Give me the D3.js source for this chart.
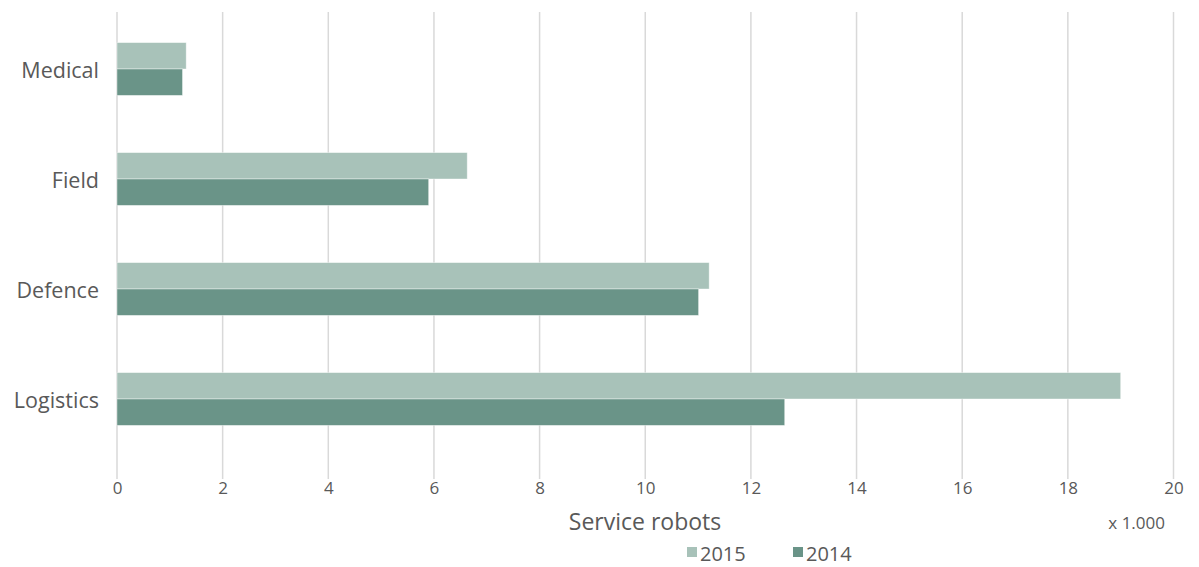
<!DOCTYPE html>
<html>
<head>
<meta charset="utf-8">
<script src="https://cdn.jsdelivr.net/npm/d3@7"></script>
<style>
  html, body { margin: 0; padding: 0; background: #fff; }
  svg { display: block; }
  text { font-family: "Open Sans", "Noto Sans", sans-serif; fill: #595959; }
</style>
</head>
<body>
<svg id="chart" width="1199" height="567"></svg>
<script>
// Service robots by application area, thousands of units
const categories = ["Medical", "Field", "Defence", "Logistics"];
const seriesNames = ["2015", "2014"];
const values2015 = [1.31, 6.63, 11.21, 19.0];
const values2014 = [1.24, 5.90, 11.01, 12.64];
const xTicks = [0, 2, 4, 6, 8, 10, 12, 14, 16, 18, 20];
const colors = ["#a8c2b9", "#6a9488"];

const svg = d3.select("#chart");
const margin = { top: 14, right: 25, bottom: 113, left: 117 };
const W = 1199, H = 567;
const innerW = W - margin.left - margin.right;
const innerH = H - margin.top - margin.bottom;

const g = svg.append("g").attr("transform", `translate(${margin.left},${margin.top})`);

const x = d3.scaleLinear().domain([0, 20]).range([0, innerW - 0.5]);
const y = d3.scaleBand().domain(categories).range([0, innerH]).paddingInner(0.52).paddingOuter(0.26);
const ySub = d3.scaleBand().domain(seriesNames).range([0, y.bandwidth()]);

// vertical gridlines
g.append("g").selectAll("line").data(xTicks).join("line")
  .attr("x1", d => x(d)).attr("x2", d => x(d))
  .attr("y1", -2).attr("y2", innerH + 25)
  .attr("stroke", "#d9d9d9").attr("stroke-width", 1.5);

// bars
const rows = categories.map((c, i) => ({ cat: c, vals: [values2015[i], values2014[i]] }));
const groups = g.append("g").selectAll("g").data(rows).join("g")
  .attr("transform", d => `translate(0,${y(d.cat)})`);
groups.selectAll("rect").data(d => d.vals.map((v, j) => ({ key: seriesNames[j], v, j })))
  .join("rect")
  .attr("x", x(0))
  .attr("y", d => ySub(d.key))
  .attr("width", d => x(d.v) - x(0))
  .attr("height", ySub.bandwidth())
  .attr("fill", d => colors[d.j])
  .attr("stroke", "#ffffff").attr("stroke-opacity", 0.5).attr("stroke-width", 0.8);

// category labels
g.append("g").selectAll("text").data(categories).join("text")
  .attr("x", -18)
  .attr("y", d => y(d) + y.bandwidth() / 2)
  .attr("text-anchor", "end")
  .attr("dominant-baseline", "central")
  .attr("font-size", 21.5)
  .text(d => d);

// x tick labels
const xAxis = d3.axisBottom(x).tickValues(xTicks).tickSize(0).tickPadding(0);
const ax = g.append("g").attr("transform", `translate(0,${innerH + 28})`).call(xAxis);
ax.select(".domain").remove();
ax.selectAll("text")
  .attr("font-size", 17)
  .attr("fill", "#595959")
  .style("font-family", "'Open Sans', sans-serif");

// axis title and unit
svg.append("text").attr("x", 645).attr("y", 530).attr("text-anchor", "middle")
  .attr("font-size", 23).text("Service robots");
svg.append("text").attr("x", 1165).attr("y", 529).attr("text-anchor", "end")
  .attr("font-size", 17).text("x 1.000");

// legend
const legend = svg.append("g").attr("transform", "translate(687,547)");
const legX = [0, 106];
seriesNames.forEach((s, i) => {
  const lg = legend.append("g").attr("transform", `translate(${legX[i]},0)`);
  lg.append("rect").attr("width", 10).attr("height", 10).attr("fill", colors[i]);
  lg.append("text").attr("x", 13).attr("y", 14).attr("font-size", 20).text(s);
});
</script>
</body>
</html>
